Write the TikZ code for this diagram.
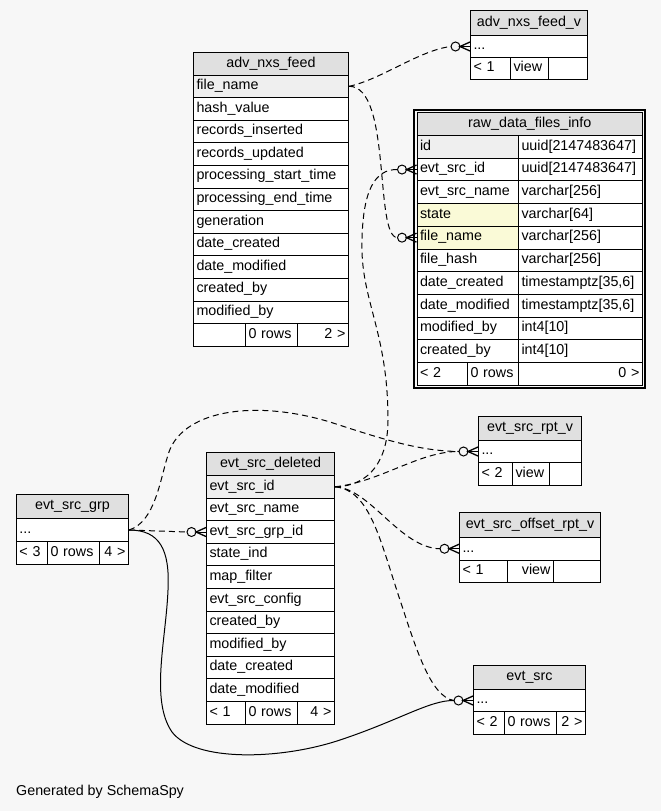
\documentclass[tikz,border=0pt]{standalone}
\usepackage{fontspec}
\setmainfont{Liberation Sans}
\definecolor{bgc}{HTML}{F7F7F7}
\definecolor{hdrgray}{HTML}{E0E0E0}
\definecolor{keygray}{HTML}{EFEFEF}
\definecolor{hiyellow}{HTML}{FAFAD7}
\newcommand{\tblfont}{\fontsize{14.3}{17}\selectfont}
\begin{document}
\begin{tikzpicture}[x=1pt,y=-1pt,
  every node/.style={font=\tblfont},
  cell/.style={draw=black, line width=1pt, inner xsep=3pt, inner ysep=0pt, anchor=north west,
    text height=10pt, text depth=3.5pt, align=left, fill=white},
  hdr/.style={cell, fill=hdrgray, align=center},
  conn/.style={line width=1pt, dash pattern=on 6pt off 4pt},
  fk/.style={line width=1pt},
  crowfoot/.pic={
    \draw[line width=1pt] (-19,0) -- (0,0);
    \draw[line width=1pt, fill=bgc] (-14.5,0) circle[radius=4.5pt];
    \draw[line width=1.3pt] (0,-4.5) -- (-10,0) -- (0,4.5);
  }]
\fill[bgc] (0,0) rectangle (661,811);
\useasboundingbox (0,0) rectangle (661,811);

% adv_nxs_feed_v
\node[hdr, text width=111pt, minimum height=25pt] (anfv-h) at (470,10) {adv\_nxs\_feed\_v};
\node[cell, text width=111pt, minimum height=22pt] (anfv-r) at (470,35) {...};
\node[cell, text width=34pt, minimum height=22pt] (anfv-f1) at (470,57) {< 1};
\node[cell, text width=32pt, minimum height=22pt] (anfv-f2) at (510,57) {view};
\node[cell, text width=33pt, minimum height=22pt] (anfv-f3) at (548,57) {};

% adv_nxs_feed
\node[hdr, text width=149pt, minimum height=22.5pt] (anf-h) at (193,52) {adv\_nxs\_feed};
\foreach \t/\c [count=\i] in {file\_name/keygray, hash\_value/white, records\_inserted/white,
  records\_updated/white, processing\_start\_time/white, processing\_end\_time/white,
  generation/white, date\_created/white, date\_modified/white, created\_by/white, modified\_by/white}
  \node[cell, fill=\c, text width=149pt, minimum height=22.6pt] (anf-\i) at (193,{74.5+(\i-1)*22.6}) {\t};
\node[cell, text width=46pt, minimum height=22.6pt] (anf-f1) at (193,323.1) {};
\node[cell, text width=46pt, minimum height=22.6pt] (anf-f2) at (245,323.1) {0 rows};
\node[cell, text width=45pt, minimum height=22.6pt, align=right] (anf-f3) at (297,323.1) {2 >};

% raw_data_files_info
\draw[line width=1.6pt] (413.8,109.8) rectangle (644.8,387.8);
\node[hdr, text width=219.5pt, minimum height=23pt] (rd-h) at (416.5,112) {raw\_data\_files\_info};
\foreach \a/\b/\c [count=\i] in {id/uuid[2147483647]/keygray, evt\_src\_id/uuid[2147483647]/white,
  evt\_src\_name/varchar[256]/white, state/varchar[64]/hiyellow, file\_name/varchar[256]/hiyellow,
  file\_hash/varchar[256]/white, date\_created/timestamptz[35{,}6]/white,
  date\_modified/timestamptz[35{,}6]/white, modified\_by/int4[10]/white, created\_by/int4[10]/white}
  {
  \node[cell, fill=\c, text width=95.5pt, minimum height=22.7pt] (rd-\i a) at (416.5,{135+(\i-1)*22.7}) {\a};
  \node[cell, text width=118pt, minimum height=22.7pt] (rd-\i b) at (518,{135+(\i-1)*22.7}) {\b};
  }
\node[cell, text width=44.5pt, minimum height=23pt] (rd-f1) at (416.5,362) {< 2};
\node[cell, text width=45pt, minimum height=23pt] (rd-f2) at (467,362) {0 rows};
\node[cell, text width=118pt, minimum height=23pt, align=right] (rd-f3) at (518,362) {0 >};

% evt_src_rpt_v
\node[hdr, text width=97pt, minimum height=24pt] (esr-h) at (478,416) {evt\_src\_rpt\_v};
\node[cell, text width=97pt, minimum height=22pt] (esr-r) at (478,440) {...};
\node[cell, text width=28pt, minimum height=23pt] (esr-f1) at (478,462) {< 2};
\node[cell, text width=31pt, minimum height=23pt] (esr-f2) at (512,462) {view};
\node[cell, text width=26pt, minimum height=23pt] (esr-f3) at (549,462) {};

% evt_src_offset_rpt_v
\node[hdr, text width=135pt, minimum height=25pt] (esor-h) at (459,512) {evt\_src\_offset\_rpt\_v};
\node[cell, text width=135pt, minimum height=22.5pt] (esor-r) at (459,537) {...};
\node[cell, text width=42pt, minimum height=22.5pt] (esor-f1) at (459,559.5) {< 1};
\node[cell, text width=40pt, minimum height=22.5pt, align=right] (esor-f2) at (507,559.5) {view};
\node[cell, text width=41pt, minimum height=22.5pt] (esor-f3) at (553,559.5) {};

% evt_src
\node[hdr, text width=106pt, minimum height=24pt] (es-h) at (473,665) {evt\_src};
\node[cell, text width=106pt, minimum height=22pt] (es-r) at (473,689) {...};
\node[cell, text width=25pt, minimum height=23pt] (es-f1) at (473,711) {< 2};
\node[cell, text width=46pt, minimum height=23pt] (es-f2) at (504,711) {0 rows};
\node[cell, text width=23pt, minimum height=23pt, align=right] (es-f3) at (556,711) {2 >};

% evt_src_grp
\node[hdr, text width=106pt, minimum height=24pt] (esg-h) at (16,494) {evt\_src\_grp};
\node[cell, text width=106pt, minimum height=23pt] (esg-r) at (16,518) {...};
\node[cell, text width=25pt, minimum height=23pt] (esg-f1) at (16,541) {< 3};
\node[cell, text width=46pt, minimum height=23pt] (esg-f2) at (47,541) {0 rows};
\node[cell, text width=23pt, minimum height=23pt, align=right] (esg-f3) at (99,541) {4 >};

% evt_src_deleted
\node[hdr, text width=122pt, minimum height=23pt] (esd-h) at (206,452) {evt\_src\_deleted};
\foreach \t/\c [count=\i] in {evt\_src\_id/keygray, evt\_src\_name/white, evt\_src\_grp\_id/white,
  state\_ind/white, map\_filter/white, evt\_src\_config/white, created\_by/white,
  modified\_by/white, date\_created/white, date\_modified/white}
  \node[cell, fill=\c, text width=122pt, minimum height=22.6pt] (esd-\i) at (206,{475+(\i-1)*22.6}) {\t};
\node[cell, text width=33pt, minimum height=22.6pt] (esd-f1) at (206,701) {< 1};
\node[cell, text width=46pt, minimum height=22.6pt] (esd-f2) at (245,701) {0 rows};
\node[cell, text width=31pt, minimum height=22.6pt, align=right] (esd-f3) at (297,701) {4 >};

% connectors
\draw[conn] (anf-1.east) .. controls (380,80) and (420,50) .. ([xshift=-19pt]anfv-r.west);
\draw[conn] (anf-1.east) .. controls (392,86) and (374,237) .. ([xshift=-19pt]rd-5a.west);
\draw[conn] (esd-1.east) .. controls (370,486) and (388,460) .. (388,420)
  .. controls (388,330) and (360,300) .. (362,240)
  .. controls (363,190) and (375,169) .. ([xshift=-19pt]rd-2a.west);
\draw[conn] (esd-1.east) .. controls (380,482) and (420,451) .. ([xshift=-19pt]esr-r.west);
\draw[conn] (esg-r.east) .. controls (155,522) and (160,480) .. (168,455)
  .. controls (180,412) and (250,398) .. (330,422)
  .. controls (385,440) and (420,451) .. ([xshift=-19pt]esr-r.west);
\draw[conn] (esd-1.east) .. controls (370,488) and (400,548) .. ([xshift=-19pt]esor-r.west);
\draw[conn] (esd-1.east) .. controls (370,490) and (380,540) .. (400,600)
  .. controls (415,645) and (430,697) .. ([xshift=-19pt]es-r.west);
\draw[fk] (esg-r.east) .. controls (160,530) and (170,550) .. (168,590)
  .. controls (166,640) and (150,700) .. (172,732)
  .. controls (195,762) and (280,760) .. (340,740)
  .. controls (400,720) and (430,700) .. ([xshift=-19pt]es-r.west);
\draw[conn] (esg-r.east) -- ([xshift=-19pt]esd-3.west);

\pic at (anfv-r.west) {crowfoot};
\pic at (rd-5a.west) {crowfoot};
\pic at (rd-2a.west) {crowfoot};
\pic at (esr-r.west) {crowfoot};
\pic at (esor-r.west) {crowfoot};
\pic at (es-r.west) {crowfoot};
\pic at (esd-3.west) {crowfoot};

\node[anchor=base west, inner sep=0pt] (gen) at (16,795) {Generated by SchemaSpy};
\end{tikzpicture}
\end{document}
